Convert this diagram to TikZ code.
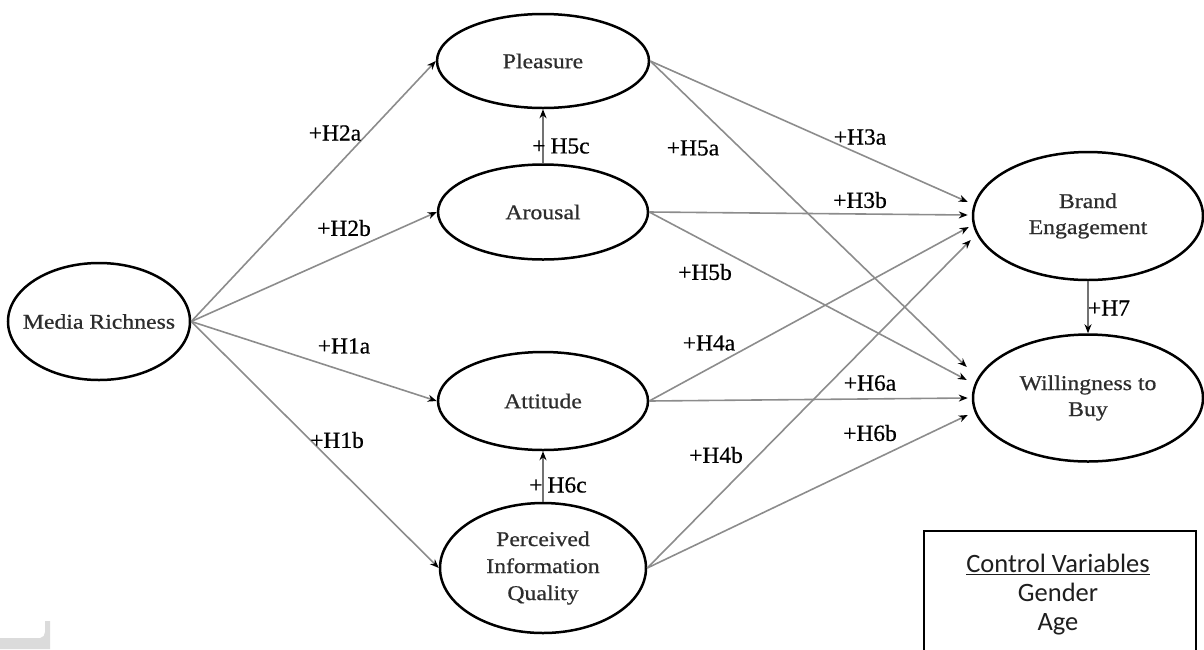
\documentclass[tikz,border=0pt]{standalone}
\usepackage{fontspec}
\setmainfont{Liberation Serif}[FakeStretch=1.13,FakeBold=0.7]
\newfontfamily\labfont{Liberation Serif}[FakeStretch=1.02,FakeBold=0.6]
\newfontfamily\cvfont{Carlito}
\usetikzlibrary{arrows.meta,calc,shapes.geometric}
\definecolor{lineg}{RGB}{140,140,140}
\definecolor{vlineg}{RGB}{115,115,115}
\definecolor{cvtext}{RGB}{30,30,30}
\definecolor{vtext}{RGB}{45,45,45}
\begin{document}
\begin{tikzpicture}[x=1pt,y=-1pt,
  var/.style={ellipse, draw, line width=2.5pt, inner sep=0pt},
  vtxt/.style={inner sep=0pt, align=center, text=vtext, font=\fontsize{21}{26}\selectfont},
  hyp/.style={draw=lineg, line width=1.6pt, -{Stealth[length=9pt,width=7pt,black]}},
  vhyp/.style={hyp, draw=vlineg},
  lab/.style={inner sep=0pt, font=\labfont\fontsize{23}{26}\selectfont},
  cvbox/.style={draw, line width=2.6pt}
]
\useasboundingbox (0,0) rectangle (1204,649);
\clip (0,0) rectangle (1204,649);

% corner artifact
\fill[gray!28] (0,649) -- (0,638) -- (40,638) to[out=0,in=-90] (45,632) -- (45,621) -- (50,621) -- (50,649) -- cycle;

% constructs
\node[var, minimum width=182pt, minimum height=117pt] (MR) at (99,321.5) {};
\node[var, minimum width=212pt, minimum height=94pt] (Pl) at (543,61) {};
\node[var, minimum width=210pt, minimum height=95pt] (Ar) at (543,212) {};
\node[var, minimum width=210pt, minimum height=98pt] (At) at (543,401) {};
\node[var, minimum width=206pt, minimum height=130pt] (PIQ) at (543,568) {};
\node[var, minimum width=230pt, minimum height=128pt] (BE) at (1088,216) {};
\node[var, minimum width=230pt, minimum height=127pt] (WB) at (1088,398) {};

\node[vtxt] (tMR) at (MR.center) {Media Richness};
\node[vtxt] (tPl) at (Pl.center) {Pleasure};
\node[vtxt] (tAr) at (Ar.center) {Arousal};
\node[vtxt] (tAt) at (At.center) {Attitude};
\node[vtxt, font=\fontsize{21}{27}\selectfont] (tPIQ) at (PIQ.center) {Perceived\\Information\\Quality};
\node[vtxt] (tBE) at (BE.center) {Brand\\Engagement};
\node[vtxt] (tWB) at (WB.center) {Willingness to\\Buy};

% arrows from Media Richness
\draw[hyp] (MR.east) -- (Pl.west);
\draw[hyp] (MR.east) -- (Ar.west);
\draw[hyp] (MR.east) -- (At.west);
\draw[hyp] (MR.east) -- (PIQ.west);

% vertical arrows
\draw[vhyp] (Ar.north) -- (Pl.south);
\draw[vhyp] (PIQ.north) -- (At.south);
\draw[vhyp] (BE.south) -- (WB.north);

% to Brand Engagement
\draw[hyp] (Pl.east) -- ($(BE.west)+(-4,-14)$);
\draw[hyp] (Ar.east) -- ($(BE.west)+(-4,-1)$);
\draw[hyp] (At.east) -- ($(BE.west)+(-3,11)$);
\draw[hyp] (PIQ.east) -- ($(BE.west)+(-1,24)$);

% to Willingness to Buy
\draw[hyp] (Pl.east) -- ($(WB.west)+(-5,-31)$);
\draw[hyp] (Ar.east) -- ($(WB.west)+(-5,-18)$);
\draw[hyp] (At.east) -- ($(WB.west)+(-4,0)$);
\draw[hyp] (PIQ.east) -- ($(WB.west)+(-4,17)$);

% labels
\node[lab] (l2a) at (335,133) {+H2a};
\node[lab] (l2b) at (344,228) {+H2b};
\node[lab] (l1a) at (344,346) {+H1a};
\node[lab] (l1b) at (337,440) {+H1b};
\node[lab] (l5c) at (561,146) {+\hspace{5pt}H5c};
\node[lab] (l6c) at (558,485) {+\hspace{5pt}H6c};
\node[lab] (l5a) at (693,148) {+H5a};
\node[lab] (l3a) at (860,137) {+H3a};
\node[lab] (l3b) at (860,200) {+H3b};
\node[lab] (l5b) at (705,272) {+H5b};
\node[lab] (l4a) at (709,343) {+H4a};
\node[lab] (l6a) at (870,383) {+H6a};
\node[lab] (l4b) at (716,455) {+H4b};
\node[lab] (l6b) at (870,433) {+H6b};
\node[lab] (l7) at (1109,308) {+H7};

% control variables box
\draw[cvbox] (924,531) rectangle (1196,660);
\node[inner sep=0pt, align=center, text=cvtext, font=\cvfont\fontsize{26.5}{29}\selectfont] (cv) at (1058,595)
  {\underline{Control Variables}\\Gender\\Age};
\end{tikzpicture}
\end{document}
